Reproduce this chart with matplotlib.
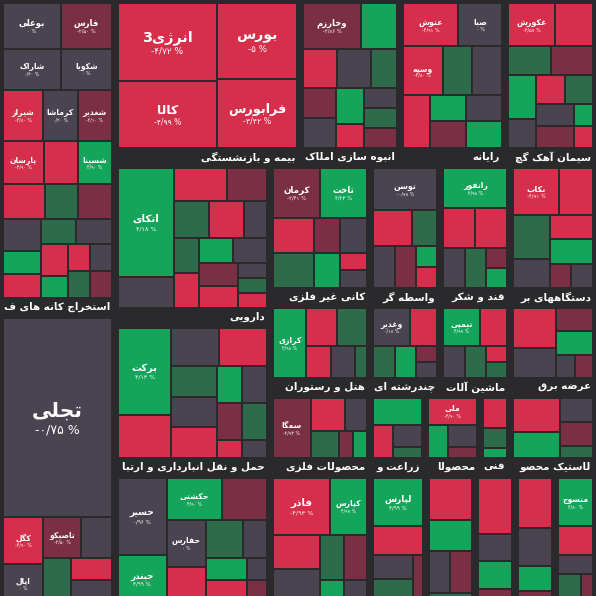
import re
import matplotlib
matplotlib.use("Agg")
import matplotlib.pyplot as plt
from matplotlib.patches import Rectangle

# ---------------- data ----------------
sector_names = [
    "استخراج کانه های فلزی", "فلزات اساسی",
    "بیمه و بازنشستگی", "انبوه سازی املاک و مستغلات", "رایانه", "سیمان آهک گچ",
    "دارویی", "حمل و نقل انبارداری و ارتباطات", "حمل و نقل آبی",
    "کانی غیر فلزی", "واسطه گریهای مالی", "قند و شکر", "دستگاههای برقی",
    "هتل و رستوران", "چندرشته ای", "ماشین آلات", "عرضه برق",
    "محصولات فلزی", "زراعت و", "محصولات غذایی", "فنی و", "لاستیک محصولات",
    "کاشی و سرامیک", "وسایل", "اطلاعات و ارتباطات", "مخابرات", "استخراج", "محصولات کاغذی",
]
sector_totals = [362, 351,
                 305, 165, 173, 150,
                 248, 233, 225,
                 140, 98, 98, 120,
                 90, 63, 63, 77,
                 80, 44, 44, 24, 69,
                 145, 80, 72, 58, 58, 59]
sector_stock_values = [
    [9, 8, 8, 7, 7, 6, 6, 6, 5, 5, 5, 4, 4, 4, 3, 3, 3, 3, 3, 2, 2, 2, 2, 2],
    [70, 6, 5, 5, 4, 4, 3, 3],
    [14, 12, 10, 11],
    [8, 5, 4, 4, 3, 3, 3, 3, 2, 2, 2, 2],
    [5, 4, 4, 3, 3, 3, 2, 2, 2, 2],
    [5, 4, 3, 3, 3, 2, 2, 2, 2, 2, 1, 1],
    [14, 4, 4, 3, 3, 3, 2, 2, 2, 2, 2, 2, 2, 1, 1, 1],
    [10, 5, 4, 4, 3, 3, 3, 2, 2, 2, 2, 1, 1],
    [8, 5, 5, 4, 4, 3, 3, 2, 2, 2, 1, 1],
    [5, 5, 3, 3, 2, 2, 2, 1, 1],
    [6, 3, 2, 2, 2, 1, 1],
    [6, 3, 3, 2, 2, 1, 1],
    [4, 3, 3, 2, 2, 2, 1, 1],
    [6, 3, 3, 2, 2, 1],
    [4, 3, 2, 2, 1, 1],
    [4, 3, 2, 2, 1, 1],
    [4, 3, 2, 2, 1, 1],
    [6, 3, 2, 2, 1, 1],
    [4, 2, 2, 1],
    [4, 2, 2, 1],
    [3, 2, 1],
    [4, 3, 2, 2, 1],
    [6, 4, 3, 3, 2, 2, 1, 1],
    [5, 3, 2, 2, 1],
    [4, 3, 2, 2, 1],
    [4, 2, 2, 1],
    [4, 3, 2, 1],
    [5, 3, 2, 2, 1],
]
sector_stock_changes = [
    [0.0, -2.5, 0.3, 0.0, -4.8, 0.2, -2.1, -4.9, -4.6, 4.9, -4.7, 2.2, -2.0, 0.0, 4.6, -4.9,
     2.5, 0.4, -3.0, 4.8, -4.8, 0.0, 2.0, -2.5],
    [-0.75, -4.9, 0.0, -2.5, 0.0, 2.0, -4.8, 0.3],
    [-4.72, -4.99, -3.42, -5.0],
    [-2.86, 4.8, -4.9, 0.0, 2.0, -2.4, 0.3, 4.5, -4.7, 0.0, 2.1, -2.3],
    [-4.91, 0.0, -4.8, 2.2, 0.4, -4.6, 4.5, -2.0, 0.0, 4.9],
    [-3.57, -4.99, 2.2, -2.1, 4.6, 0.0, -4.7, 2.0, 0.0, -2.5, 3.0, -4.0],
    [4.18, 0.5, -4.9, -2.1, 2.0, -4.6, 0.0, 2.5, -4.8, 4.9, 0.0, -2.0, -4.5, 0.2, 2.4, -4.9],
    [4.13, -4.9, 0.0, -4.8, 2.2, 0.0, -4.7, 4.6, 0.2, -2.3, 2.0, -4.5, 0.0],
    [0.96, 4.99, 4.9, -2.4, 0.0, -4.8, 2.1, 0.0, 4.7, -4.6, 0.3, -2.0],
    [-2.41, 4.23, -4.8, 2.0, -2.1, 0.0, 4.6, -3.0, 0.0],
    [-0.78, -4.9, 2.1, 0.0, -2.0, 4.5, -4.7],
    [4.98, -4.9, -4.8, 0.0, 2.1, -2.0, 3.0],
    [-4.91, -4.7, 2.0, 0.0, -3.0, 4.8, -2.1, 0.5],
    [4.98, -4.9, 2.1, -4.0, 0.0, 2.0],
    [0.18, -4.8, 2.1, 4.7, -2.0, 0.0],
    [4.99, -4.7, 0.0, 2.1, -4.8, 2.0],
    [-4.9, 0.3, -2.0, 4.8, 0.0, -2.1],
    [-2.93, -4.8, 0.0, 2.0, -2.1, 4.6],
    [5.0, -4.8, 0.0, 2.1],
    [-4.9, 4.8, 0.0, -2.1],
    [-4.9, 2.1, 4.6],
    [-4.8, 4.9, 0.0, -2.1, 2.0],
    [-4.93, 4.99, -4.8, 0.0, 2.0, -2.1, 4.7, 0.0],
    [4.99, -4.8, 0.0, 2.1, -2.0],
    [-4.9, 4.8, 0.0, -2.1, 2.0],
    [-4.9, 0.0, 4.8, -2.0],
    [-4.9, 0.0, 4.8, -2.0],
    [4.8, -4.9, 0.0, 2.0, -2.1],
]
sector_stock_labels = [
    ["بوعلی", "فارس", "شاراک", "شکویا", "شیراز", "کرماشا", "شغدیر", "پارسان", "", "شسینا",
     "", "", "", "", "", "", "", "", "", "", "", "", "", ""],
    ["تجلی", "کگل", "اپال", "تاصیکو", "", "", "", ""],
    ["انرژی3", "کالا", "فرابورس", "بورس"],
    ["وخارزم", "", "", "", "", "", "", "", "", "", "", ""],
    ["عتوش", "صبا", "وسپه", "", "", "", "", "", "", ""],
    ["غکورش", "", "", "", "", "", "", "", "", "", "", ""],
    ["اتکای", "", "", "", "", "", "", "", "", "", "", "", "", "", "", ""],
    ["برکت", "", "", "", "", "", "", "", "", "", "", "", ""],
    ["حسیر", "حبندر", "حکشتی", "", "حفارس", "", "", "", "", "", "", ""],
    ["کرمان", "تاخت", "", "", "", "", "", "", ""],
    ["توسن", "", "", "", "", "", ""],
    ["رانفور", "", "", "", "", "", ""],
    ["بکاب", "", "", "", "", "", "", ""],
    ["کرازی", "", "", "", "", ""],
    ["وغدیر", "", "", "", "", ""],
    ["تیمپی", "", "", "", "", ""],
    ["", "", "", "", "", ""],
    ["سمگا", "", "", "", "", ""],
    ["", "", "", ""],
    ["ملی", "", "", ""],
    ["", "", ""],
    ["", "", "", "", ""],
    ["فاذر", "کپارس", "", "", "", "", "", ""],
    ["لپارس", "", "", "", ""],
    ["", "", "", "", ""],
    ["", "", "", ""],
    ["", "", "", ""],
    ["منسوج", "", "", "", ""],
]
# arrangement of the sectors (orientation of each split; sizes come from the totals)
layout_tree = ("h", [("v", [0, 1]),
                     ("v", [("h", [2, 3, 4, 5]),
                            ("h", [("v", [6, 7, 8]),
                                   ("v", [("h", [9, 10, 11, 12]),
                                          ("h", [13, 14, 15, 16]),
                                          ("h", [17, 18, 19, 20, 21]),
                                          ("h", [22, 23, 24, 25, 26, 27])])])])])

# ---------------- minimal Persian shaping ----------------
FORMS = {
    'ا': (0xFE8D, 0xFE8E, None, None), 'آ': (0xFE81, 0xFE82, None, None),
    'ب': (0xFE8F, 0xFE90, 0xFE91, 0xFE92), 'پ': (0xFB56, 0xFB57, 0xFB58, 0xFB59),
    'ت': (0xFE95, 0xFE96, 0xFE97, 0xFE98), 'ث': (0xFE99, 0xFE9A, 0xFE9B, 0xFE9C),
    'ج': (0xFE9D, 0xFE9E, 0xFE9F, 0xFEA0), 'چ': (0xFB7A, 0xFB7B, 0xFB7C, 0xFB7D),
    'ح': (0xFEA1, 0xFEA2, 0xFEA3, 0xFEA4), 'خ': (0xFEA5, 0xFEA6, 0xFEA7, 0xFEA8),
    'د': (0xFEA9, 0xFEAA, None, None), 'ذ': (0xFEAB, 0xFEAC, None, None),
    'ر': (0xFEAD, 0xFEAE, None, None), 'ز': (0xFEAF, 0xFEB0, None, None),
    'ژ': (0xFB8A, 0xFB8B, None, None),
    'س': (0xFEB1, 0xFEB2, 0xFEB3, 0xFEB4), 'ش': (0xFEB5, 0xFEB6, 0xFEB7, 0xFEB8),
    'ص': (0xFEB9, 0xFEBA, 0xFEBB, 0xFEBC), 'ض': (0xFEBD, 0xFEBE, 0xFEBF, 0xFEC0),
    'ط': (0xFEC1, 0xFEC2, 0xFEC3, 0xFEC4), 'ظ': (0xFEC5, 0xFEC6, 0xFEC7, 0xFEC8),
    'ع': (0xFEC9, 0xFECA, 0xFECB, 0xFECC), 'غ': (0xFECD, 0xFECE, 0xFECF, 0xFED0),
    'ف': (0xFED1, 0xFED2, 0xFED3, 0xFED4), 'ق': (0xFED5, 0xFED6, 0xFED7, 0xFED8),
    'ک': (0xFB8E, 0xFB8F, 0xFB90, 0xFB91), 'گ': (0xFB92, 0xFB93, 0xFB94, 0xFB95),
    'ل': (0xFEDD, 0xFEDE, 0xFEDF, 0xFEE0), 'م': (0xFEE1, 0xFEE2, 0xFEE3, 0xFEE4),
    'ن': (0xFEE5, 0xFEE6, 0xFEE7, 0xFEE8), 'و': (0xFEED, 0xFEEE, None, None),
    'ه': (0xFEE9, 0xFEEA, 0xFEEB, 0xFEEC), 'ی': (0xFBFC, 0xFBFD, 0xFBFE, 0xFBFF),
}


def shape(text):
    out = []
    n = len(text)
    for i, c in enumerate(text):
        if c not in FORMS:
            out.append(c)
            continue
        f = FORMS[c]
        prev = text[i - 1] if i > 0 else None
        nxt = text[i + 1] if i + 1 < n else None
        jp = prev in FORMS and FORMS[prev][2] is not None
        jn = f[2] is not None and nxt in FORMS
        cp = f[3] if (jp and jn) else f[1] if jp else f[2] if jn else f[0]
        out.append(chr(cp))
    s = ''.join(out)[::-1]
    return re.sub(r'[0-9]+', lambda m: m.group(0)[::-1], s)


FA = str.maketrans("0123456789", "۰۱۲۳۴۵۶۷۸۹")


def pct(v):
    d = ("%.2f" % abs(v)).replace(".", "/").translate(FA)
    if d.endswith("/۰۰"):
        d = d[:-3]
    return ("-" if v < 0 else "") + d + " %"


def color_for(v):
    if v <= -3: return "#d62f4b"
    if v <= -1: return "#7b2f45"
    if v < 1: return "#4a4350"
    if v < 3: return "#2e6b4a"
    return "#15a55a"


# ---------------- layouts ----------------
def worst(row, w):
    s = sum(row)
    return max(max(w * w * r / (s * s), (s * s) / (w * w * r)) for r in row)


def squarify(values, x, y, w, h):
    total = sum(values)
    vals = [v * w * h / total for v in values]
    rects = []
    i = 0
    while i < len(vals):
        side = min(w, h)
        row = [vals[i]]
        i += 1
        while i < len(vals) and worst(row + [vals[i]], side) <= worst(row, side):
            row.append(vals[i]); i += 1
        s = sum(row)
        if w >= h:
            rw = s / h
            yy = y
            for r in row:
                rh = r / rw
                rects.append((x, yy, rw, rh)); yy += rh
            x += rw; w -= rw
        else:
            rh = s / w
            xx = x
            for r in row:
                rw = r / rh
                rects.append((xx, y, rw, rh)); xx += rw
            y += rh; h -= rh
    return rects


def node_size(node):
    if isinstance(node, int):
        return sector_totals[node]
    return sum(node_size(c) for c in node[1])


def layout(node, x, y, w, h, out):
    if isinstance(node, int):
        out[node] = (x, y, w, h)
        return
    d, kids = node
    tot = node_size(node)
    for c in kids:
        f = node_size(c) / tot
        if d == "h":
            layout(c, x, y, w * f, h, out); x += w * f
        else:
            layout(c, x, y, w, h * f, out); y += h * f


# ---------------- draw ----------------
W = H = 596
fig = plt.figure(figsize=(5.96, 5.96), dpi=100)
fig.patch.set_facecolor("#2a2a2c")
ax = fig.add_axes([0, 0, 1, 1])
ax.set_xlim(0, W); ax.set_ylim(H, 0); ax.axis("off")
renderer = fig.canvas.get_renderer()

srects = {}
layout(layout_tree, 0, 0, W, 620, srects)

for k, (sx, sy, sw, sh) in srects.items():
    lab_h = 16
    name = sector_names[k]
    t = ax.text(sx + sw - 5, sy + sh - lab_h / 2, shape(name), ha="right",
                va="center", color="white", fontsize=7.5, fontweight="bold",
                family="DejaVu Sans")
    # truncate (from the visual left) until the label fits inside its sector
    while len(name) > 1 and t.get_window_extent(renderer).width > sw - 8:
        name = name[:-1].rstrip()
        t.set_text(shape(name))
    vals = sector_stock_values[k]
    idx = sorted(range(len(vals)), key=lambda j: -vals[j])
    crects = squarify([vals[j] for j in idx], sx + 3, sy + 3, sw - 6, sh - lab_h - 4)
    for j, (cx, cy, cw, ch) in zip(idx, crects):
        cv = sector_stock_changes[k][j]
        ax.add_patch(Rectangle((cx + 1, cy + 1), cw - 2, ch - 2, facecolor=color_for(cv),
                               edgecolor="none"))
        sname = sector_stock_labels[k][j]
        if sname and cw > 28 and ch > 22:
            fs = max(5.5, min(17, min(cw, ch) / 7.5))
            ax.text(cx + cw / 2, cy + ch / 2 - fs * 0.45, shape(sname), ha="center", va="center",
                    color="white", fontsize=fs, family="DejaVu Sans", fontweight="bold")
            ax.text(cx + cw / 2, cy + ch / 2 + fs * 0.85, pct(cv), ha="center", va="center",
                    color="white", fontsize=fs * 0.62, family="DejaVu Sans")

fig.savefig("out.png", dpi=100, facecolor=fig.get_facecolor())
